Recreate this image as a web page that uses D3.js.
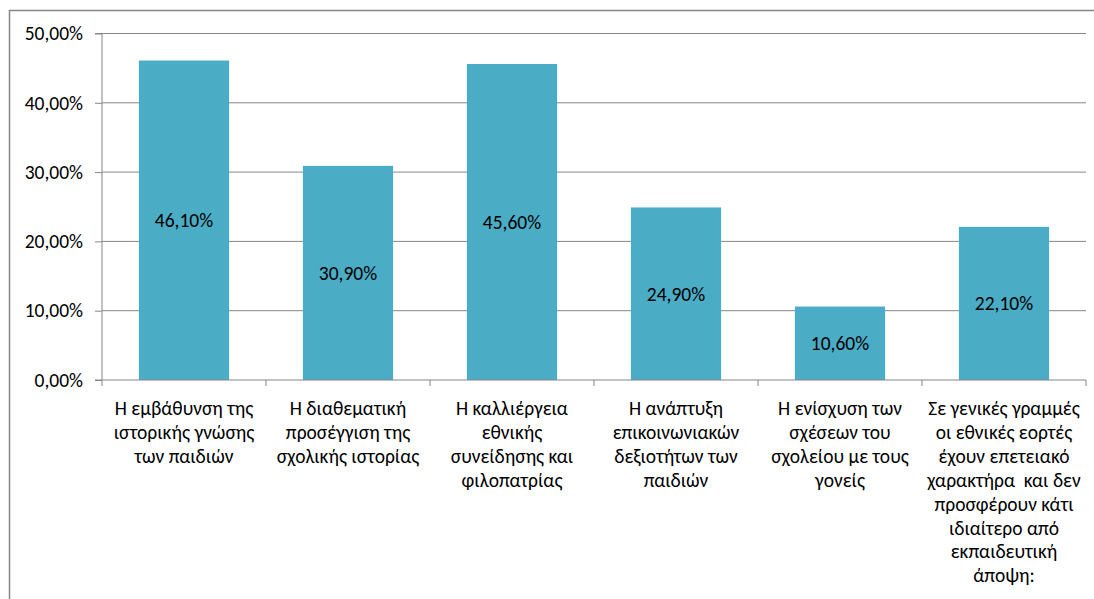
<!DOCTYPE html>
<html>
<head>
<meta charset="utf-8">
<script src="https://cdn.jsdelivr.net/npm/d3@7"></script>
<style>
  html, body { margin: 0; padding: 0; background: #fff; }
  svg { display: block; }
  text { font-family: Carlito, Calibri, "Liberation Sans", sans-serif; fill: #000; }
</style>
</head>
<body>
<svg id="chart" width="1094" height="599"></svg>
<script>
// Category labels, one entry per wrapped line
const categories = [
  ["Η εμβάθυνση της", "ιστορικής γνώσης", "των παιδιών"],
  ["Η διαθεματική", "προσέγγιση της", "σχολικής ιστορίας"],
  ["Η καλλιέργεια", "εθνικής", "συνείδησης και", "φιλοπατρίας"],
  ["Η ανάπτυξη", "επικοινωνιακών", "δεξιοτήτων των", "παιδιών"],
  ["Η ενίσχυση των", "σχέσεων του", "σχολείου με τους", "γονείς"],
  ["Σε γενικές γραμμές", "οι εθνικές εορτές", "έχουν επετειακό", "χαρακτήρα  και δεν", "προσφέρουν κάτι", "ιδιαίτερο από", "εκπαιδευτική", "άποψη:"]
];
// Percentages
const values = [46.1, 30.9, 45.6, 24.9, 10.6, 22.1];
const valueLabels = ["46,10%", "30,90%", "45,60%", "24,90%", "10,60%", "22,10%"];
const yTicks = [0, 10, 20, 30, 40, 50];
const yTickLabels = ["0,00%", "10,00%", "20,00%", "30,00%", "40,00%", "50,00%"];

const svg = d3.select("#chart");
const gridColor = "#868686";
const barColor = "#4BACC6";
const fontSize = 19.5;
const lineH = 23.9;

const plot = { left: 102, right: 1086, top: 33.5, bottom: 380 };

// outer chart frame
svg.append("rect")
  .attr("x", 9.5).attr("y", 10.5)
  .attr("width", 1110).attr("height", 620)
  .attr("fill", "none").attr("stroke", gridColor).attr("stroke-width", 1.5);

const idx = d3.range(values.length);
const x = d3.scaleBand().domain(idx).range([plot.left, plot.right]).paddingInner(0.45).paddingOuter(0.225);
const xOuter = d3.scaleBand().domain(idx).range([plot.left, plot.right]);
const y = d3.scaleLinear().domain([0, 50]).range([plot.bottom, plot.top]);

// horizontal gridlines
svg.append("g").selectAll("line").data(yTicks.filter(t => t > 0)).join("line")
  .attr("x1", plot.left).attr("x2", plot.right)
  .attr("y1", d => y(d)).attr("y2", d => y(d))
  .attr("stroke", gridColor).attr("stroke-width", 1);

// y axis
const yAxis = d3.axisLeft(y).tickValues(yTicks).tickSize(7).tickPadding(12)
  .tickFormat((d, i) => yTickLabels[i]);
const gy = svg.append("g").attr("transform", `translate(${plot.left},0)`).call(yAxis);
gy.select(".domain").attr("stroke", gridColor).attr("d", `M-7,${plot.top}H0V${plot.bottom}H-7`);
gy.selectAll(".tick line").attr("stroke", gridColor);
gy.selectAll(".tick text").attr("font-size", fontSize).attr("font-family", null).attr("fill", "#000");

// bars
svg.append("g").selectAll("rect").data(values).join("rect")
  .attr("x", (d, i) => x(i)).attr("width", x.bandwidth())
  .attr("y", d => y(d)).attr("height", d => y(0) - y(d))
  .attr("fill", barColor);

// value labels centred in each bar
svg.append("g").selectAll("text").data(values).join("text")
  .attr("x", (d, i) => x(i) + x.bandwidth() / 2)
  .attr("y", d => (y(d) + y(0)) / 2)
  .attr("dy", "0.35em")
  .attr("text-anchor", "middle")
  .attr("font-size", fontSize)
  .text((d, i) => valueLabels[i]);

// x axis line and category boundary ticks
const gx = svg.append("g");
gx.append("line").attr("x1", plot.left).attr("x2", plot.right)
  .attr("y1", plot.bottom).attr("y2", plot.bottom).attr("stroke", gridColor);
const bounds = idx.map(i => xOuter(i)).concat([plot.right]);
gx.selectAll("line.tk").data(bounds).join("line").attr("class", "tk")
  .attr("x1", d => d).attr("x2", d => d)
  .attr("y1", plot.bottom).attr("y2", plot.bottom + 6)
  .attr("stroke", gridColor);

// wrapped category labels
const lab = svg.append("g").selectAll("text").data(categories).join("text")
  .attr("text-anchor", "middle")
  .attr("font-size", fontSize)
  .attr("transform", (d, i) => `translate(${xOuter(i) + xOuter.bandwidth() / 2},415)`);
lab.selectAll("tspan").data(d => d).join("tspan")
  .attr("x", 0).attr("y", (d, j) => j * lineH)
  .attr("xml:space", "preserve")
  .text(d => d);
</script>
</body>
</html>
